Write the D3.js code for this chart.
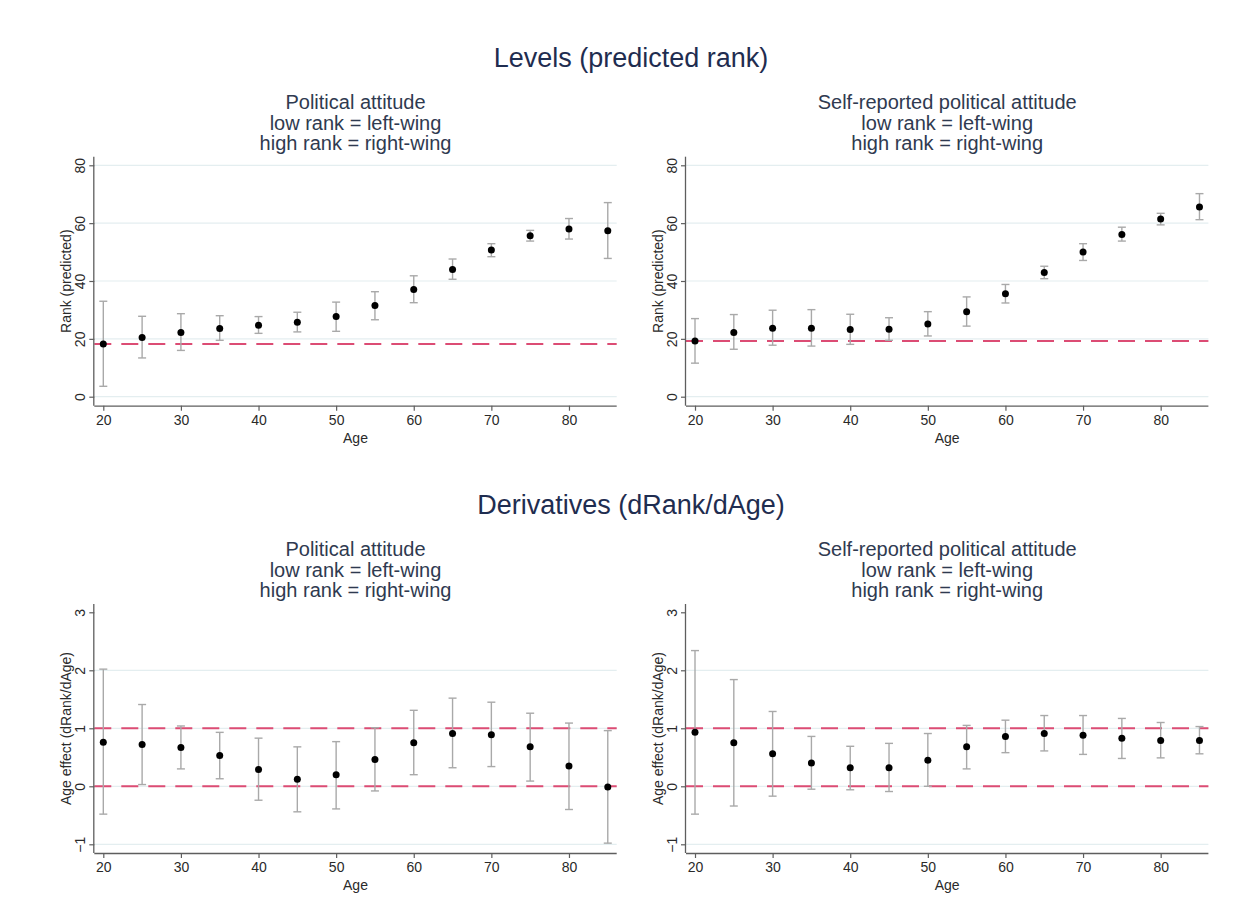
<!DOCTYPE html>
<html>
<head>
<meta charset="utf-8">
<script src="https://cdn.jsdelivr.net/npm/d3@7"></script>
<style>
  html, body { margin: 0; padding: 0; background: #fff; }
  svg { display: block; font-family: "Liberation Sans", Arial, sans-serif; }
</style>
</head>
<body>
<svg id="chart" width="1250" height="897"></svg>
<script>
// Age groups (x axis)
const ages = [20, 25, 30, 35, 40, 45, 50, 55, 60, 65, 70, 75, 80, 85];

// Levels: predicted rank, political attitude
const paRank   = [18.2, 20.5, 22.2, 23.6, 24.7, 25.7, 27.7, 31.5, 37.1, 44.0, 50.7, 55.6, 58.0, 57.4];
const paRankLo = [3.6, 13.4, 16.0, 19.5, 21.9, 22.4, 22.6, 26.6, 32.5, 40.6, 48.4, 53.8, 54.5, 47.8];
const paRankHi = [33.0, 27.8, 28.7, 28.0, 27.7, 29.2, 32.7, 36.3, 41.8, 47.6, 52.9, 57.5, 61.6, 67.1];

// Levels: predicted rank, self-reported political attitude
const srRank   = [19.3, 22.2, 23.7, 23.7, 23.2, 23.3, 25.1, 29.4, 35.6, 42.9, 50.0, 56.1, 61.4, 65.6];
const srRankLo = [11.6, 16.4, 17.8, 17.5, 18.1, 19.5, 21.0, 24.4, 32.4, 40.8, 47.1, 53.8, 59.4, 61.2];
const srRankHi = [27.0, 28.4, 29.9, 30.1, 28.5, 27.3, 29.4, 34.5, 38.8, 45.1, 52.9, 58.6, 63.4, 70.2];

// Derivatives dRank/dAge, political attitude
const paDeriv   = [0.76, 0.72, 0.67, 0.53, 0.29, 0.12, 0.20, 0.46, 0.75, 0.91, 0.89, 0.68, 0.35, -0.01];
const paDerivLo = [-0.48, 0.03, 0.30, 0.13, -0.24, -0.44, -0.39, -0.08, 0.20, 0.32, 0.34, 0.09, -0.40, -0.98];
const paDerivHi = [2.02, 1.41, 1.04, 0.93, 0.83, 0.68, 0.77, 1.01, 1.31, 1.52, 1.45, 1.26, 1.09, 0.96];

// Derivatives dRank/dAge, self-reported political attitude
const srDeriv   = [0.93, 0.75, 0.56, 0.40, 0.32, 0.32, 0.45, 0.68, 0.86, 0.91, 0.88, 0.83, 0.79, 0.79];
const srDerivLo = [-0.48, -0.34, -0.17, -0.05, -0.06, -0.09, 0.00, 0.30, 0.58, 0.61, 0.55, 0.48, 0.49, 0.56];
const srDerivHi = [2.34, 1.84, 1.29, 0.86, 0.69, 0.74, 0.91, 1.05, 1.14, 1.22, 1.22, 1.17, 1.10, 1.03];

// Axis ticks
const xTicks = [20, 30, 40, 50, 60, 70, 80];
const levelTicks = [0, 20, 40, 60, 80];
const derivTicks = [-1, 0, 1, 2, 3];

// Titles
const rowTitles = ["Levels (predicted rank)", "Derivatives (dRank/dAge)"];
const panelSubtitles = [
  ["Political attitude", "low rank = left-wing", "high rank = right-wing"],
  ["Self-reported political attitude", "low rank = left-wing", "high rank = right-wing"]
];
const levelAxisTitle = "Rank (predicted)";
const derivAxisTitle = "Age effect (dRank/dAge)";
const xAxisTitle = "Age";

// Style
const C = {
  title: "#1f2d50",
  subtitle: "#2f3a50",
  text: "#2a2a2a",
  axis: "#5e5e5e",
  grid: "#e4eef0",
  ci: "#a9a9a9",
  point: "#000000",
  ref: "#dc4c74"
};

const svg = d3.select("#chart");

// Row titles
const rowOffset = 447.3;
rowTitles.forEach((t, i) => {
  svg.append("text")
    .attr("x", 631).attr("y", 67 + i * rowOffset)
    .attr("text-anchor", "middle")
    .attr("font-size", 27)
    .attr("fill", C.title)
    .text(t);
});

const panels = [
  { row: 0, col: 0, y: paRank, lo: paRankLo, hi: paRankHi, ticks: levelTicks, yDomain: [-3.11, 82.97], grid: levelTicks, refs: [paRank[0]], yTitle: levelAxisTitle },
  { row: 0, col: 1, y: srRank, lo: srRankLo, hi: srRankHi, ticks: levelTicks, yDomain: [-3.11, 82.97], grid: levelTicks, refs: [srRank[0]], yTitle: levelAxisTitle },
  { row: 1, col: 0, y: paDeriv, lo: paDerivLo, hi: paDerivHi, ticks: derivTicks, yDomain: [-1.15, 3.143], grid: [-1, 0, 1, 2], refs: [0, 1], yTitle: derivAxisTitle },
  { row: 1, col: 1, y: srDeriv, lo: srDerivLo, hi: srDerivHi, ticks: derivTicks, yDomain: [-1.15, 3.143], grid: [-1, 0, 1, 2], refs: [0, 1], yTitle: derivAxisTitle }
];

const colLeft = [94.3, 686];
const plotW = 522.4;
const plotTop = 156.7;
const plotH = 249;

panels.forEach(p => {
  const left = colLeft[p.col];
  const right = left + plotW;
  const top = plotTop + p.row * rowOffset;
  const bottom = top + plotH;
  const cx = (left + right) / 2;

  const x = d3.scaleLinear().domain([18.84, 86.15]).range([left, right]);
  const y = d3.scaleLinear().domain(p.yDomain).range([bottom, top]);

  const g = svg.append("g");

  // Subtitles
  panelSubtitles[p.col].forEach((s, k) => {
    g.append("text")
      .attr("x", cx).attr("y", 109 + k * 20.5 + p.row * rowOffset)
      .attr("text-anchor", "middle")
      .attr("font-size", 20)
      .attr("fill", C.subtitle)
      .text(s);
  });

  // Gridlines
  g.selectAll(".grid").data(p.grid).enter().append("line")
    .attr("x1", left).attr("x2", right)
    .attr("y1", d => y(d)).attr("y2", d => y(d))
    .attr("stroke", C.grid).attr("stroke-width", 1.2);

  // Reference lines
  g.selectAll(".ref").data(p.refs).enter().append("line")
    .attr("x1", left).attr("x2", right)
    .attr("y1", d => y(d)).attr("y2", d => y(d))
    .attr("stroke", C.ref).attr("stroke-width", 2)
    .attr("stroke-dasharray", "17,10");

  const rows = ages.map((a, i) => ({ a, v: p.y[i], lo: p.lo[i], hi: p.hi[i] }));

  // Confidence intervals
  const ci = g.selectAll(".ci").data(rows).enter().append("g")
    .attr("stroke", C.ci).attr("stroke-width", 1.4).attr("fill", "none");
  ci.append("line")
    .attr("x1", d => x(d.a)).attr("x2", d => x(d.a))
    .attr("y1", d => y(d.lo)).attr("y2", d => y(d.hi));
  ci.append("line")
    .attr("x1", d => x(d.a) - 4).attr("x2", d => x(d.a) + 4)
    .attr("y1", d => y(d.lo)).attr("y2", d => y(d.lo));
  ci.append("line")
    .attr("x1", d => x(d.a) - 4).attr("x2", d => x(d.a) + 4)
    .attr("y1", d => y(d.hi)).attr("y2", d => y(d.hi));

  // Point estimates
  g.selectAll(".pt").data(rows).enter().append("circle")
    .attr("cx", d => x(d.a)).attr("cy", d => y(d.v))
    .attr("r", 3.5).attr("fill", C.point);

  // X axis
  const xa = g.append("g")
    .attr("transform", `translate(0,${bottom})`)
    .call(d3.axisBottom(x).tickValues(xTicks).tickSize(5).tickPadding(4).tickFormat(d3.format("d")));
  xa.select(".domain").attr("d", `M${left},0.5H${right}`).attr("stroke", C.axis).attr("stroke-width", 1.3);
  xa.selectAll(".tick line").attr("stroke", C.axis).attr("stroke-width", 1.2);
  xa.selectAll(".tick text").attr("font-size", 14).attr("fill", C.text)
    .attr("font-family", "Liberation Sans, Arial, sans-serif");

  // Y axis
  const ya = g.append("g")
    .attr("transform", `translate(${left},0)`)
    .call(d3.axisLeft(y).tickValues(p.ticks).tickSize(5).tickPadding(4).tickFormat(d3.format("d")));
  ya.select(".domain").attr("d", `M-0.5,${top}V${bottom}`).attr("stroke", C.axis).attr("stroke-width", 1.3);
  ya.selectAll(".tick line").attr("stroke", C.axis).attr("stroke-width", 1.2);
  ya.selectAll(".tick text")
    .attr("font-size", 14).attr("fill", C.text)
    .attr("font-family", "Liberation Sans, Arial, sans-serif")
    .attr("x", null).attr("dy", null)
    .attr("text-anchor", "middle")
    .attr("dominant-baseline", "central")
    .attr("transform", "translate(-14,0) rotate(-90)");

  // Axis titles
  g.append("text")
    .attr("x", cx).attr("y", bottom + 37)
    .attr("text-anchor", "middle")
    .attr("font-size", 14).attr("fill", C.text)
    .text(xAxisTitle);
  g.append("text")
    .attr("transform", `translate(${left - 28},${(top + bottom) / 2}) rotate(-90)`)
    .attr("text-anchor", "middle")
    .attr("dominant-baseline", "central")
    .attr("font-size", 14).attr("fill", C.text)
    .text(p.yTitle);
});
</script>
</body>
</html>
